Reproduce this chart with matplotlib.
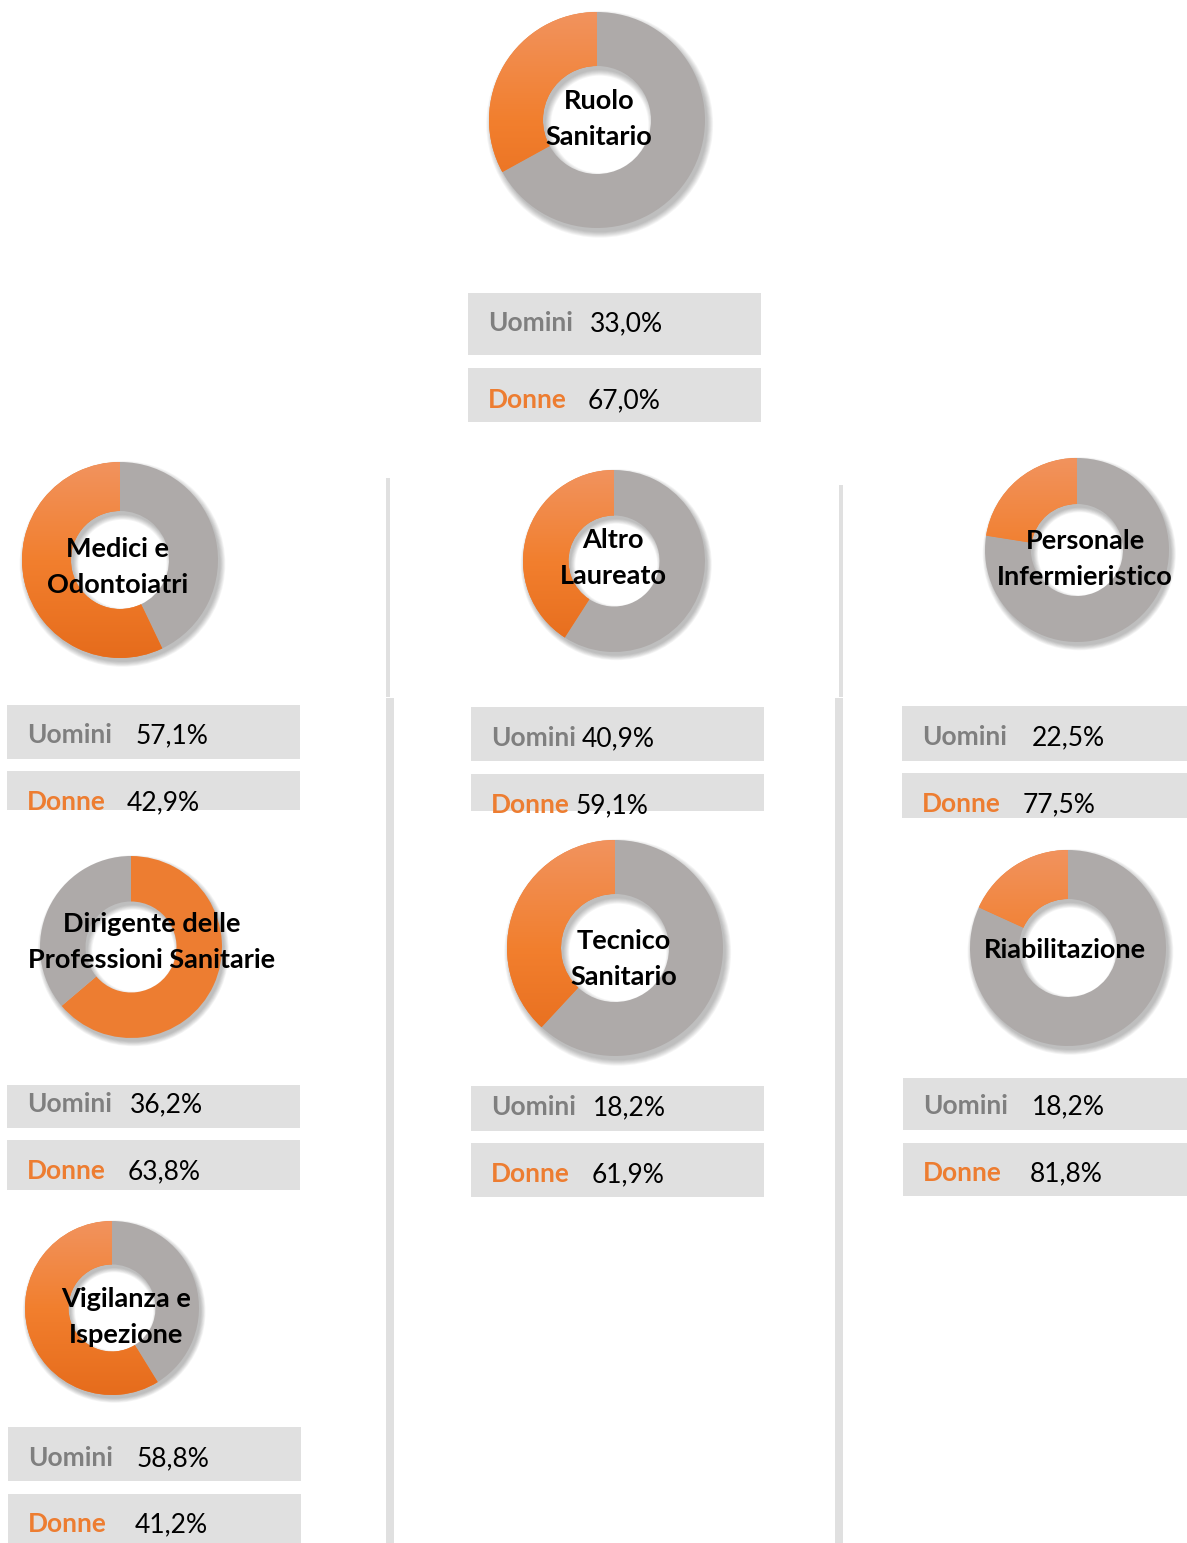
import numpy as np
import matplotlib.pyplot as plt
from matplotlib.patches import Rectangle, Wedge
from matplotlib.colors import LinearSegmentedColormap

W, H = 1187, 1543

# ---- data ----
names = ["Ruolo\nSanitario", "Medici e\nOdontoiatri", "Altro\nLaureato",
         "Personale\nInfermieristico", "Dirigente delle\nProfessioni Sanitarie",
         "Tecnico\nSanitario", "Riabilitazione", "Vigilanza e\nIspezione"]
uomini = ["33,0%", "57,1%", "40,9%", "22,5%", "36,2%", "18,2%", "18,2%", "58,8%"]
donne = ["67,0%", "42,9%", "59,1%", "77,5%", "63,8%", "61,9%", "81,8%", "41,2%"]
# slices as drawn in each ring (percent)
orange_share = [33.0, 57.1, 40.9, 22.5, 63.8, 38.1, 18.2, 58.8]
gray_share = [67.0, 42.9, 59.1, 77.5, 36.2, 61.9, 81.8, 41.2]

# ---- layout (pixels) ----
rings = [(597, 120, 108), (120, 560, 98), (614, 561, 91), (1077, 550, 92),
         (131, 947, 91), (615, 948, 108), (1068, 948, 98), (112, 1308, 87)]
orange_first = [False, False, False, False, True, False, False, False]
flat_orange = [False, False, False, False, True, False, False, False]
label_pos = [(599, 99), (118, 547), (613, 538), (1085, 539),
             (152, 922), (624, 939), (1065, 948), (126, 1297)]
box_x = [(468, 761), (7, 300), (471, 764), (902, 1187),
         (7, 300), (471, 764), (903, 1187), (8, 301)]
box_u = [(293, 355), (705, 759), (707, 761), (706, 761),
         (1085, 1128), (1086, 1131), (1078, 1130), (1427, 1481)]
box_d = [(368, 422), (771, 810), (774, 811), (773, 818),
         (1140, 1190), (1143, 1197), (1143, 1196), (1494, 1543)]
txt_u = [(321, 590), (733, 136), (736, 582), (735, 1032),
         (1102, 130), (1105, 593), (1104, 1032), (1456, 137)]
txt_d = [(398, 588), (800, 127), (803, 576), (802, 1023),
         (1169, 128), (1172, 592), (1171, 1030), (1522, 135)]

GRAY = "#AEAAA9"
ORANGE = "#ED7D31"
BOXC = "#E0E0E0"
LINEC = "#E0E0E0"
FONT = "Lato"
FS_LAB = 19.5
FS_BOX = 19

orange_grad = LinearSegmentedColormap.from_list(
    "og", ["#E66C1C", "#F27F2E", "#F1935E"])

fig = plt.figure(figsize=(W / 100, H / 100), dpi=100)
ax = fig.add_axes([0, 0, 1, 1])
ax.set_xlim(0, W)
ax.set_ylim(H, 0)
ax.axis("off")

# separator lines
ax.vlines(388, 478, 697, color=LINEC, lw=4 * 0.72)
ax.vlines(390, 698, H, color=LINEC, lw=8 * 0.72)
ax.vlines(841, 485, 697, color=LINEC, lw=4 * 0.72)
ax.vlines(839, 698, H, color=LINEC, lw=8 * 0.72)

# value boxes
for i in range(len(names)):
    x0, x1 = box_x[i]
    for (y0, y1), (ty, vx), lab, val, col in [
            (box_u[i], txt_u[i], "Uomini", uomini[i], "#7F7F7F"),
            (box_d[i], txt_d[i], "Donne", donne[i], ORANGE)]:
        r = Rectangle((x0, y0), x1 - x0, y1 - y0, color=BOXC, lw=0)
        ax.add_patch(r)
        t1 = ax.text(x0 + 20, ty + 10, lab, color=col, fontsize=FS_BOX,
                     fontweight="bold", family=FONT, va="baseline")
        t2 = ax.text(vx, ty + 10, val, color="black", fontsize=FS_BOX,
                     family=FONT, va="baseline")
        t1.set_clip_path(r)
        t2.set_clip_path(r)

# donuts
yy = np.linspace(0, 1, 256).reshape(-1, 1)
for i in range(len(names)):
    cx, cy, R = rings[i]
    m = 1.15
    dax = fig.add_axes([(cx - R * m) / W, 1 - (cy + R * m) / H,
                        2 * R * m / W, 2 * R * m / H])
    dax.axis("off")
    # soft shadow
    for s in np.linspace(0, 0.05, 7):
        dax.add_patch(Wedge((0.025, -0.04), 1.0 + s, 0, 360, width=0.5 + 2 * s,
                            color="black", alpha=0.04, lw=0, zorder=0))
    if orange_first[i]:
        vals, cols = [orange_share[i], gray_share[i]], [ORANGE, GRAY]
    else:
        vals, cols = [gray_share[i], orange_share[i]], [GRAY, ORANGE]
    wedges, _ = dax.pie(vals, colors=cols, startangle=90, counterclock=False,
                        radius=1, wedgeprops=dict(width=0.5, linewidth=0))
    for w in wedges:
        w.set_zorder(2)
    if not flat_orange[i]:
        ow = wedges[0] if orange_first[i] else wedges[1]
        im = dax.imshow(yy, extent=[-1, 1, -1, 1], origin="lower",
                        cmap=orange_grad, zorder=3, aspect="auto")
        im.set_clip_path(ow)
    dax.set_xlim(-m, m)
    dax.set_ylim(-m, m)
    dax.set_aspect("equal")

    # centre label
    lx, ly = label_pos[i]
    for k, line in enumerate(names[i].split("\n")):
        fig.text(lx / W, 1 - (ly + 36 * k + 10) / H, line, ha="center",
                 va="baseline", fontsize=FS_LAB, fontweight="bold", family=FONT,
                 color="black", zorder=10)

fig.savefig("out.png", dpi=100)
